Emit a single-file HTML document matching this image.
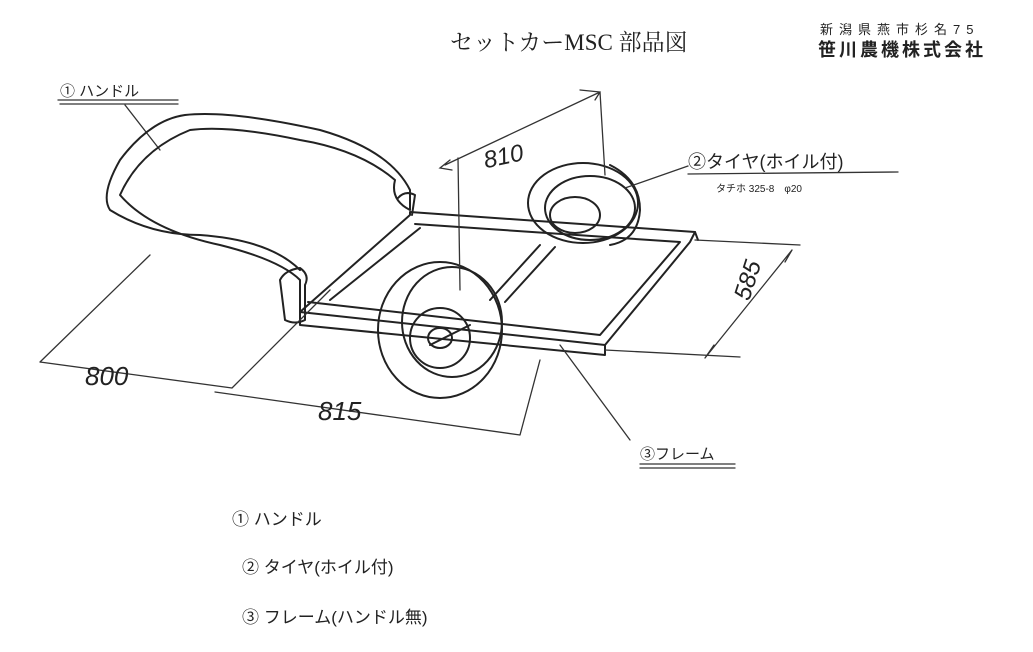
<!DOCTYPE html>
<html><head><meta charset="utf-8"><style>
html,body{margin:0;padding:0;background:#fff;width:1033px;height:652px;overflow:hidden}
svg{display:block}
text{font-family:"Liberation Sans","Noto Sans CJK JP",sans-serif;fill:#222}
.s{fill:none;stroke:#222;stroke-width:2;stroke-linecap:round;stroke-linejoin:round}
.t{fill:none;stroke:#333;stroke-width:1.3;stroke-linecap:round}
</style></head><body>
<svg width="1033" height="652" viewBox="0 0 1033 652">
<text x="450" y="50" font-size="23" style="font-family:'Liberation Serif','Noto Serif CJK SC',serif">セットカーMSC 部品図</text>
<text x="820" y="34" font-size="13" letter-spacing="6">新潟県燕市杉名75</text>
<text x="818" y="56" font-size="18" font-weight="bold" letter-spacing="3">笹川農機株式会社</text>

<text x="60" y="96" font-size="15">① ハンドル</text>
<path class="t" d="M58 100 L178 100 M60 104 L178 104"/>
<path class="t" d="M125 105 L160 150"/>
<path class="s" d="M185 115 Q230 110 320 130 Q390 150 410 190 L410 210 Q390 200 395 180 Q360 150 300 140 Q230 125 190 130 Q140 150 120 195 Q150 230 220 245 Q280 260 300 280 L300 320 M185 115 Q150 120 120 160 Q100 195 110 210 Q150 235 200 235 Q270 240 300 270"/>
<path class="s" d="M280 280 Q285 270 300 268 Q310 275 305 285 L305 320 Q295 325 285 320 Z"/>
<path class="s" d="M398 198 Q405 190 415 195 L412 215"/>

<path class="s" d="M410 212 L695 232 L690 242 L605 345 L300 312 L410 215 Z"/>
<path class="s" d="M415 224 L680 242 L600 335 L308 302"/>
<path class="s" d="M300 312 L300 325 L605 355 L605 345 M695 232 L698 240"/>
<path class="s" d="M540 245 L490 300 M555 247 L505 302 M420 228 L330 300"/>
<ellipse class="s" cx="583" cy="203" rx="55" ry="40"/>
<ellipse class="s" cx="590" cy="208" rx="45" ry="32"/>
<ellipse class="s" cx="575" cy="215" rx="25" ry="18"/>
<path class="s" d="M610 165 Q640 180 640 210 Q638 240 610 245"/>
<ellipse class="s" cx="440" cy="330" rx="62" ry="68"/>
<ellipse class="s" cx="452" cy="322" rx="50" ry="55"/>
<ellipse class="s" cx="440" cy="338" rx="30" ry="30"/>
<ellipse class="s" cx="440" cy="338" rx="12" ry="10"/>
<path class="s" d="M430 345 L470 325"/>

<path class="t" d="M445 165 L600 92 M450 160 L440 168 L452 170 M580 90 L600 92 L595 100 M600 92 L605 175 M458 158 L460 290"/>
<text x="483" y="165" font-size="24" font-style="italic" transform="rotate(-12 500 155)">810</text>
<text x="688" y="168" font-size="18">②タイヤ(ホイル付)</text>
<path class="t" d="M688 174 L898 172 M688 166 L625 188"/>
<text x="716" y="192" font-size="10">タチホ 325-8　φ20</text>
<path class="t" d="M695 240 L800 245 M605 350 L740 357 M705 358 L792 250 M705 358 L714 345 M792 250 L785 262"/>
<text x="755" y="290" font-size="24" font-style="italic" transform="rotate(-72 760 300)">585</text>
<path class="t" d="M40 362 L150 255 M40 362 L232 388 M232 388 L330 290 M215 392 L520 435 M520 435 L540 360"/>
<text x="85" y="385" font-size="26" font-style="italic">800</text>
<text x="318" y="420" font-size="26" font-style="italic">815</text>
<path class="t" d="M560 345 L630 440"/>
<text x="640" y="459" font-size="15">③フレーム</text>
<path class="t" d="M640 464 L735 464 M640 468 L735 468"/>

<text x="232" y="525" font-size="17">① ハンドル</text>
<text x="242" y="573" font-size="17">② タイヤ(ホイル付)</text>
<text x="242" y="623" font-size="17">③ フレーム(ハンドル無)</text>
</svg>
</body></html>
